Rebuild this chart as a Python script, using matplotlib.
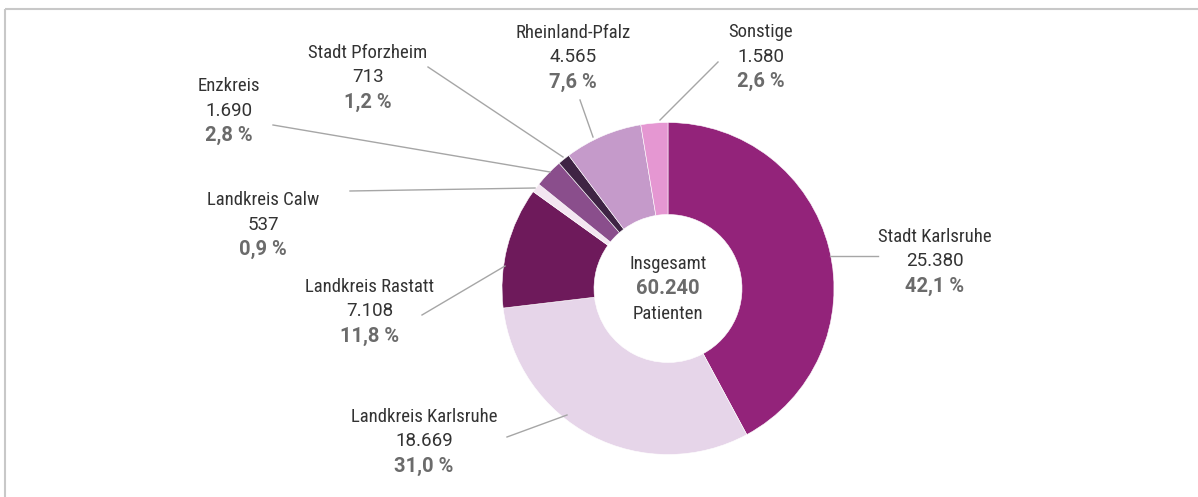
import matplotlib
matplotlib.use("Agg")
import matplotlib.pyplot as plt
from matplotlib import font_manager

# Patienten nach Herkunft
regions = ["Stadt Karlsruhe", "Landkreis Karlsruhe", "Landkreis Rastatt", "Landkreis Calw",
           "Enzkreis", "Stadt Pforzheim", "Rheinland-Pfalz", "Sonstige"]
patients = [25380, 18669, 7108, 537, 1690, 713, 4565, 1580]
shares = ["42,1 %", "31,0 %", "11,8 %", "0,9 %", "2,8 %", "1,2 %", "7,6 %", "2,6 %"]
total_label = "60.240"
colors = ["#93237A", "#E6D5E9", "#6E1A5B", "#F3E6F1", "#8A4E8C", "#3F2444", "#C59ACA", "#E597D2"]

# condensed face for the names, a wider one for the digits
names = {f.name for f in font_manager.fontManager.ttflist}
name_font = "Roboto Condensed" if "Roboto Condensed" in names else "Open Sans"
num_font = "Roboto" if "Roboto" in names else "DejaVu Sans"
plt.rcParams["font.family"] = [name_font, "DejaVu Sans"]

W, H = 1198, 497
fig = plt.figure(figsize=(W / 100, H / 100), dpi=100)
ax = fig.add_axes([0, 0, 1, 1])

cx, cy, r = 668, H - 288.5, 166
ax.pie(patients, colors=colors, startangle=90, counterclock=False,
       center=(cx, cy), radius=r,
       wedgeprops=dict(width=r - 74, edgecolor="white", linewidth=0.4))
ax.set_xlim(0, W)
ax.set_ylim(0, H)
ax.set_aspect("auto")
ax.axis("off")

# label layout in pixels from the top-left corner: text centre x, first line y, leader line
layout = [
    (935, 237, (830, 256), (878, 256)),
    (424, 417, (567, 415), (507, 437)),
    (370, 287, (505, 266), (422, 315)),
    (263, 200, (535, 188), (350, 191)),
    (229, 86, (550, 172), (273, 125)),
    (368, 53, (563, 157), (428, 67)),
    (573, 33, (593, 137), (580, 100)),
    (761, 32, (660, 120), (718, 62)),
]

dark = "#333333"
grey = "#6B6B6B"
fs = 13.5
step = 24.5
for name, n, pct, (tx, ty, p0, p1) in zip(regions, patients, shares, layout):
    ax.plot([p0[0], p1[0]], [H - p0[1], H - p1[1]], color="#A6A6A6", lw=1.0)
    num = f"{n:,}".replace(",", ".")
    ax.text(tx, H - ty, name, ha="center", va="center", fontsize=fs, color=dark)
    ax.text(tx, H - ty - step, num, ha="center", va="center", fontsize=fs, color=dark,
            family=[num_font, "DejaVu Sans"])
    ax.text(tx, H - ty - 2 * step, pct, ha="center", va="center", fontsize=14.5,
            color=grey, fontweight="bold", family=[num_font, "DejaVu Sans"])

# centre text
ax.text(cx, H - 264, "Insgesamt", ha="center", va="center", fontsize=fs, color=dark)
ax.text(cx, H - 289, total_label, ha="center", va="center", fontsize=14.5, color=grey,
        fontweight="bold", family=[num_font, "DejaVu Sans"])
ax.text(cx, H - 314, "Patienten", ha="center", va="center", fontsize=fs, color=dark)

# frame lines on top and left
ax.plot([5, W], [H - 9, H - 9], color="#C8C8C8", lw=1.5, solid_capstyle="butt")
ax.plot([5, 5], [H - 9, 0], color="#C8C8C8", lw=1.5, solid_capstyle="butt")

fig.savefig("out.png", dpi=100)
